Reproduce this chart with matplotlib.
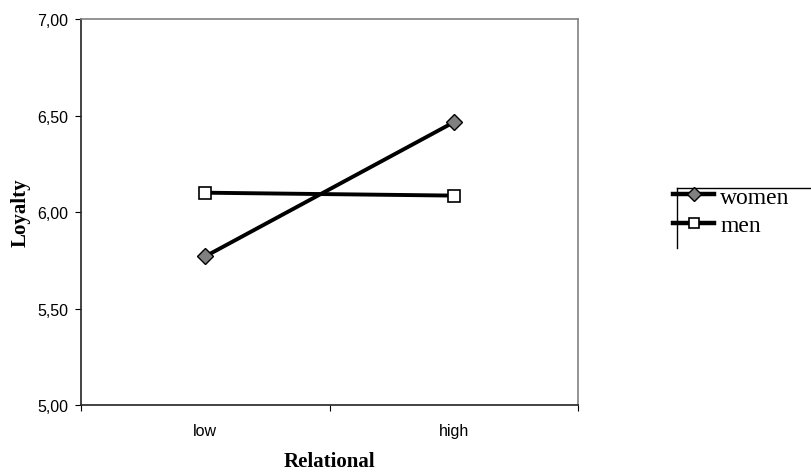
import matplotlib
matplotlib.use('Agg')
import matplotlib.pyplot as plt
from matplotlib.lines import Line2D

categories = ['low', 'high']
women = [5.77, 6.465]
men = [6.10, 6.085]
y_ticks = [5.00, 5.50, 6.00, 6.50, 7.00]

W, H = 811, 477
fig = plt.figure(figsize=(W / 100, H / 100), dpi=100)
ax = fig.add_axes([81 / W, 1 - 406 / H, 497 / W, 386 / H])

x = [0.5, 1.5]
w_style = dict(color='black', marker='D', markerfacecolor='#808080',
               markeredgecolor='black', markeredgewidth=1)
m_style = dict(color='black', marker='s', markerfacecolor='white',
               markeredgecolor='black', markeredgewidth=1.2)
ax.plot(x, women, lw=2.8, markersize=8, zorder=3, **w_style)
ax.plot(x, men, lw=2.8, markersize=9, zorder=3, **m_style)

ax.set_xlim(0, 2)
ax.set_ylim(5, 7)
ax.set_xticks([0, 1, 2])
ax.set_xticklabels([])
ax.set_xticks(x, minor=True)
ax.set_xticklabels(categories, minor=True)
ax.tick_params(axis='x', which='minor', length=0, pad=13)
ax.tick_params(axis='x', which='major', length=4, direction='out', color='black')
ax.set_yticks(y_ticks)
ax.set_yticklabels([f'{v:.2f}'.replace('.', ',') for v in y_ticks])
ax.tick_params(axis='y', length=4, direction='out', pad=5, color='black')
for lab in ax.get_xticklabels(minor=True) + ax.get_yticklabels():
    lab.set_fontfamily('Liberation Sans')
    lab.set_fontsize(11.5)

ax.spines['left'].set_color('#222222')
ax.spines['bottom'].set_color('#222222')
ax.spines['top'].set_color('#808080')
ax.spines['right'].set_color('#808080')
for s in ax.spines.values():
    s.set_linewidth(1.2)

ax.set_xlabel('Relational', fontfamily='Liberation Serif', fontweight='bold',
              fontsize=15, labelpad=9)
ax.set_ylabel('Loyalty', fontfamily='Liberation Serif', fontweight='bold',
              fontsize=15, labelpad=5)

handles = [Line2D([], [], lw=3.2, markersize=7, **w_style),
           Line2D([], [], lw=3.2, markersize=7, **m_style)]
fig.legend(handles, ['women', 'men'], loc='upper left',
           bbox_to_anchor=(673 / W, 1 - 187 / H),
           frameon=False, borderpad=0, borderaxespad=0,
           handlelength=1.75, handletextpad=0.25, labelspacing=0.3,
           prop={'family': 'Liberation Serif', 'size': 17})
fig.add_artist(Line2D([677 / W, 1], [1 - 189 / H] * 2, transform=fig.transFigure,
                      color='black', lw=1))
fig.add_artist(Line2D([677 / W] * 2, [1 - 189 / H, 1 - 249 / H],
                      transform=fig.transFigure, color='black', lw=1))

fig.savefig('out.png', dpi=100)
